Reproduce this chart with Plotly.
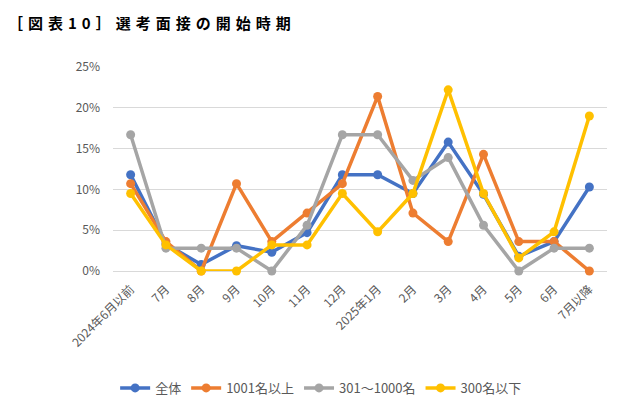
import plotly.graph_objects as go

# カテゴリ（面接開始時期）
months = ["2024年6月以前", "7月", "8月", "9月", "10月", "11月", "12月",
          "2025年1月", "2月", "3月", "4月", "5月", "6月", "7月以降"]

# 各系列の割合（%）
zentai = [11.8, 3.3, 0.8, 3.1, 2.3, 4.7, 11.8, 11.8, 9.5, 15.8, 9.4, 1.8, 3.6, 10.3]
over_1001 = [10.7, 3.6, 0.0, 10.7, 3.6, 7.1, 10.7, 21.4, 7.1, 3.6, 14.3, 3.6, 3.6, 0.0]
mid_301_1000 = [16.7, 2.8, 2.8, 2.8, 0.0, 5.6, 16.7, 16.7, 11.1, 13.9, 5.6, 0.0, 2.8, 2.8]
under_300 = [9.5, 3.2, 0.0, 0.0, 3.2, 3.2, 9.5, 4.8, 9.5, 22.2, 9.5, 1.6, 4.8, 19.0]

series_names = ["全体", "1001名以上", "301～1000名", "300名以下"]
colors = ["#4472C4", "#ED7D31", "#A5A5A5", "#FFC000"]

fig = go.Figure()

for name, vals, color in zip(series_names,
                             [zentai, over_1001, mid_301_1000, under_300],
                             colors):
    fig.add_trace(go.Scatter(
        x=months,
        y=[v / 100 for v in vals],
        mode="lines+markers",
        name=name,
        line=dict(color=color, width=3.5),
        marker=dict(color=color, size=9),
        cliponaxis=False
    ))

# タイトル：文字間を広げる（U+2004）
sp = "\u2004"
title_text = (sp.join("［図表") + sp + sp.join("10") + sp + "］"
              + sp + sp.join("選考面接の開始時期"))

# ページ本体の既定余白（8px）を考慮して 614x397 で作図
fig.update_layout(
    width=614,
    height=397,
    paper_bgcolor="white",
    plot_bgcolor="white",
    margin=dict(l=105, r=15, t=59, b=134, autoexpand=False),
    font=dict(family="Noto Sans CJK JP", color="#595959", size=12),
    title=dict(
        text=title_text,
        x=0.0, xanchor="left", y=0.96, yanchor="middle",
        font=dict(family="Noto Sans CJK JP", size=15, color="#000000", weight=600)
    ),
    xaxis=dict(
        type="category",
        range=[-0.5, 13.5],
        tickangle=-45,
        showgrid=False,
        showline=False,
        ticks="",
        automargin=False,
        ticklabelstandoff=8,
        tickfont=dict(size=12, color="#595959")
    ),
    yaxis=dict(
        range=[0, 0.25],
        dtick=0.05,
        tickformat=".0%",
        showgrid=True,
        gridcolor="#D9D9D9",
        gridwidth=1,
        zeroline=True,
        zerolinecolor="#D9D9D9",
        zerolinewidth=1,
        ticks="",
        automargin=False,
        ticklabelstandoff=12,
        tickfont=dict(size=12, color="#595959")
    ),
    legend=dict(
        orientation="h",
        xref="container", yref="container",
        x=0.51, xanchor="center",
        y=0.043, yanchor="middle",
        font=dict(size=13, color="#595959"),
        itemwidth=30,
        tracegroupgap=0
    ),
    showlegend=True
)

fig.write_html("out.html")
